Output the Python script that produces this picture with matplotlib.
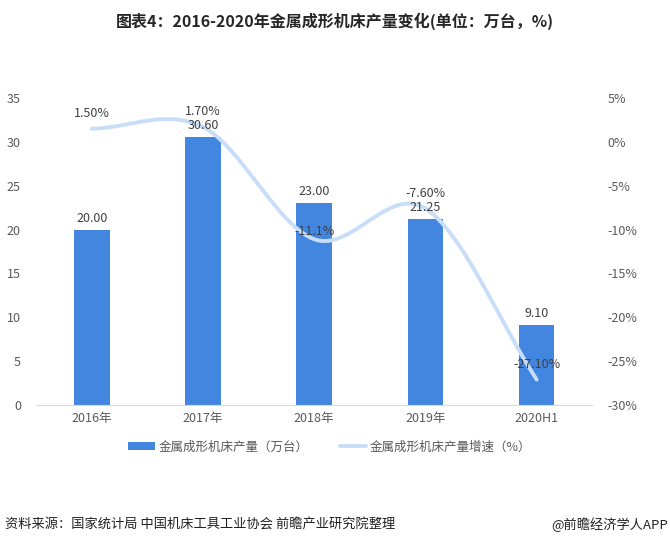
import matplotlib

matplotlib.use("Agg")
import matplotlib.pyplot as plt
import numpy as np

plt.rcParams["font.family"] = ["Noto Sans CJK SC", "DejaVu Sans"]

CATEGORIES = ["2016年", "2017年", "2018年", "2019年", "2020H1"]
OUTPUT_VALUES = [20.00, 30.60, 23.00, 21.25, 9.10]
GROWTH_PCT = [1.5, 1.7, -11.1, -7.6, -27.1]
GROWTH_LABELS = ["1.50%", "1.70%", "-11.1%", "-7.60%", "-27.10%"]
LEFT_TICKS = [0, 5, 10, 15, 20, 25, 30, 35]
RIGHT_TICKS = [5, 0, -5, -10, -15, -20, -25, -30]

BAR_COLOR = "#4286E0"
LINE_COLOR = "#C8DEF8"
TICK_COLOR = "#595959"
LABEL_COLOR = "#404040"


def smooth(x, y, n=40):
    # Catmull-Rom style smoothing, like the spreadsheet "smoothed line"
    x = np.asarray(x, float)
    y = np.asarray(y, float)
    px = np.concatenate([[2 * x[0] - x[1]], x, [2 * x[-1] - x[-2]]])
    py = np.concatenate([[2 * y[0] - y[1]], y, [2 * y[-1] - y[-2]]])
    xs, ys = [], []
    t = np.linspace(0, 1, n)
    for i in range(1, len(px) - 2):
        for arr, out in ((px, xs), (py, ys)):
            p0, p1, p2, p3 = arr[i - 1], arr[i], arr[i + 1], arr[i + 2]
            out.extend(
                0.5 * ((2 * p1) + (-p0 + p2) * t
                       + (2 * p0 - 5 * p1 + 4 * p2 - p3) * t ** 2
                       + (-p0 + 3 * p1 - 3 * p2 + p3) * t ** 3)
            )
    return np.array(xs), np.array(ys)


fig = plt.figure(figsize=(6.7, 5.47), dpi=100)
ax = fig.add_axes([0.054, 0.2596, 0.830, 0.5612])
x = np.arange(len(CATEGORIES))

bars = ax.bar(x, OUTPUT_VALUES, width=0.32, color=BAR_COLOR, zorder=2)
ax.set_xlim(-0.5, len(CATEGORIES) - 0.5)
ax.set_ylim(0, 35)
ax.set_yticks(LEFT_TICKS)
ax.set_xticks(x)
ax.set_xticklabels(CATEGORIES)
ax.tick_params(axis="both", length=0, labelsize=9, labelcolor=TICK_COLOR)
ax.tick_params(axis="y", pad=11)
ax.tick_params(axis="x", pad=5)
for side in ("top", "left", "right"):
    ax.spines[side].set_visible(False)
ax.spines["bottom"].set_color("#D9D9D9")

ax2 = ax.twinx()
sx, sy = smooth(x, GROWTH_PCT)
line, = ax2.plot(sx, sy, color=LINE_COLOR, lw=2.8, solid_capstyle="round",
                 zorder=3)
ax2.set_ylim(-30, 5)
ax2.set_yticks(RIGHT_TICKS)
ax2.set_yticklabels([f"{t}%" for t in RIGHT_TICKS])
ax2.tick_params(axis="y", length=0, labelsize=9, labelcolor=TICK_COLOR, pad=11)
for side in ("top", "left", "right", "bottom"):
    ax2.spines[side].set_visible(False)

# data labels drawn on the top axes so nothing hides them
for xi, v in zip(x, OUTPUT_VALUES):
    ax2.text(xi, ax2.transData.inverted().transform(
        ax.transData.transform((xi, v)))[1] + 0.55, f"{v:.2f}",
        ha="center", va="bottom", fontsize=9, color=LABEL_COLOR, zorder=5)
offsets = [1.0, 1.0, 0.1, 1.0, 1.0]
for xi, v, lab, off in zip(x, GROWTH_PCT, GROWTH_LABELS, offsets):
    ax2.text(xi, v + off, lab, ha="center", va="bottom",
             fontsize=9, color=LABEL_COLOR, zorder=5)

fig.legend([bars, line], ["金属成形机床产量（万台）", "金属成形机床产量增速（%）"],
           loc="center", bbox_to_anchor=(0.492, 1 - 447 / 547), ncol=2,
           frameon=False, fontsize=9, labelcolor=TICK_COLOR,
           handlelength=2.1, handleheight=0.6, columnspacing=2.5,
           handletextpad=0.3)

fig.text(0.5, 1 - 21 / 547, "图表4：2016-2020年金属成形机床产量变化(单位：万台，%)",
         ha="center", va="center", fontsize=11.5, fontweight="bold",
         color="#262626")
fig.text(0.008, 1 - 525 / 547, "资料来源：国家统计局 中国机床工具工业协会 前瞻产业研究院整理",
         ha="left", va="center", fontsize=9.5, color="#222222")
fig.text(0.997, 1 - 525 / 547, "@前瞻经济学人APP",
         ha="right", va="center", fontsize=9.5, color="#222222")

fig.savefig("out.png", dpi=100)
